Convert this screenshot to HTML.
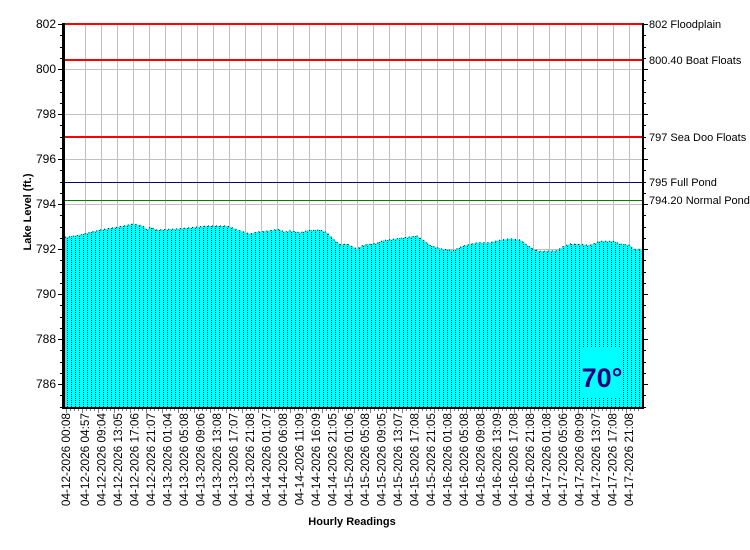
<!DOCTYPE html>
<html><head><meta charset="utf-8"><style>
html,body{margin:0;padding:0;background:#fff;}
svg{display:block;font-family:"Liberation Sans",Arial,sans-serif;}
</style></head><body>
<svg width="750" height="550" viewBox="0 0 750 550" xmlns="http://www.w3.org/2000/svg">
<defs>
<pattern id="dots" x="65" y="0" width="4" height="2" patternUnits="userSpaceOnUse">
<rect width="4" height="2" fill="#00ffff"/>
<rect x="2" y="0" width="1" height="1" fill="#000"/>
</pattern>
</defs>
<g stroke="#c0c0c0" stroke-width="1">
<line x1="64" y1="69.5" x2="643" y2="69.5"/>
<line x1="64" y1="114.5" x2="643" y2="114.5"/>
<line x1="64" y1="159.5" x2="643" y2="159.5"/>
<line x1="64" y1="204.5" x2="643" y2="204.5"/>
<line x1="64" y1="249.5" x2="643" y2="249.5"/>
<line x1="64" y1="294.5" x2="643" y2="294.5"/>
<line x1="64" y1="339.5" x2="643" y2="339.5"/>
<line x1="64" y1="384.5" x2="643" y2="384.5"/>
</g>
<g id="vg" stroke="#c0c0c0" stroke-width="1"></g>
<path fill="url(#dots)" d="M65,408 L65,237 L66,237.3 L80,235 L100,230 L120,226.7 L133,224 L143,226 L147,230 L150,227.3 L157,230 L180,228.7 L200,226.7 L207,226 L225,226 L230,227 L240,230.7 L250,234 L257,232 L270,230.7 L278,229.3 L285,232 L290,230.7 L300,232.7 L307,230.7 L320,230 L327,232.7 L333,239 L340,244.7 L347,244 L357,249 L363,245.3 L377,243.3 L383,240.7 L397,238.7 L417,236 L423,240 L430,245.3 L440,248.7 L453,250.7 L463,246 L477,242.7 L490,242.7 L497,240.7 L510,238.7 L520,240 L533,249.3 L540,251.3 L557,250.7 L563,246.7 L570,244 L583,244.7 L590,245.3 L600,241.3 L613,241.3 L620,244 L630,245.3 L633,249.3 L642,249.3 L642,408 Z"/>
<path fill="none" stroke="#000" stroke-width="1" stroke-dasharray="1 3" d="M65,237 L66,237.3 L80,235 L100,230 L120,226.7 L133,224 L143,226 L147,230 L150,227.3 L157,230 L180,228.7 L200,226.7 L207,226 L225,226 L230,227 L240,230.7 L250,234 L257,232 L270,230.7 L278,229.3 L285,232 L290,230.7 L300,232.7 L307,230.7 L320,230 L327,232.7 L333,239 L340,244.7 L347,244 L357,249 L363,245.3 L377,243.3 L383,240.7 L397,238.7 L417,236 L423,240 L430,245.3 L440,248.7 L453,250.7 L463,246 L477,242.7 L490,242.7 L497,240.7 L510,238.7 L520,240 L533,249.3 L540,251.3 L557,250.7 L563,246.7 L570,244 L583,244.7 L590,245.3 L600,241.3 L613,241.3 L620,244 L630,245.3 L633,249.3 L642,249.3"/>
<g>
<rect x="65" y="23" width="578" height="2" fill="#ff0000"/>
<rect x="65" y="59" width="578" height="2" fill="#ff0000"/>
<rect x="65" y="136" width="578" height="2" fill="#ff0000"/>
<rect x="65" y="182" width="578" height="1" fill="#000080"/>
<rect x="65" y="200" width="578" height="1" fill="#008000"/>
</g>
<rect x="580" y="348" width="43" height="49" fill="#00ffff"/>
<text x="602" y="387" font-size="27" font-weight="bold" fill="#000080" text-anchor="middle">70°</text>
<rect x="62" y="23" width="3" height="386" fill="#000"/>
<rect x="642" y="23" width="2" height="386" fill="#000"/>
<rect x="62" y="407" width="582" height="2" fill="#000"/>
<g id="ticks" stroke="#808080" stroke-width="1"></g>
<g font-size="12" fill="#000" text-anchor="end">
<text x="56" y="28">802</text>
<text x="56" y="73">800</text>
<text x="56" y="118">798</text>
<text x="56" y="163">796</text>
<text x="56" y="208">794</text>
<text x="56" y="253">792</text>
<text x="56" y="298">790</text>
<text x="56" y="343">788</text>
<text x="56" y="388">786</text>
</g>
<g font-size="11" fill="#000">
<text x="649" y="28">802 Floodplain</text>
<text x="649" y="64">800.40 Boat Floats</text>
<text x="649" y="141">797 Sea Doo Floats</text>
<text x="649" y="186">795 Full Pond</text>
<text x="649" y="204">794.20 Normal Pond</text>
</g>
<text transform="translate(31,212) rotate(-90)" font-size="11" font-weight="bold" text-anchor="middle">Lake Level (ft.)</text>
<text x="352" y="525" font-size="11" font-weight="bold" text-anchor="middle">Hourly Readings</text>
<g id="xl" font-size="11.8" fill="#000"></g>
</svg>
<script>
(function(){
var ns="http://www.w3.org/2000/svg";
var vg=document.getElementById('vg');
for(var k=0;k<35;k++){var x=85.5+k*16;var l=document.createElementNS(ns,'line');l.setAttribute('x1',x);l.setAttribute('x2',x);l.setAttribute('y1',24);l.setAttribute('y2',407);vg.appendChild(l);}
var tg=document.getElementById('ticks');
function ln(x1,y1,x2,y2,c){var l=document.createElementNS(ns,'line');l.setAttribute('x1',x1);l.setAttribute('y1',y1);l.setAttribute('x2',x2);l.setAttribute('y2',y2);if(c)l.setAttribute('stroke',c);tg.appendChild(l);}
for(var v=0;v<=17*2;v++){var y=24+v*11.25;var major=(v%4==0);ln(major?58:60,Math.round(y)+0.5,62,Math.round(y)+0.5,'#000');ln(644,Math.round(y)+0.5,major?648:646,Math.round(y)+0.5,'#000');}
for(var x=66;x<642;x+=4){ln(x+0.5,409,x+0.5,(x-66)%16==0?413:411);}
var labs=["04-12-2026 00:08","04-12-2026 04:57","04-12-2026 09:04","04-12-2026 13:05","04-12-2026 17:06","04-12-2026 21:07","04-13-2026 01:04","04-13-2026 05:08","04-13-2026 09:06","04-13-2026 13:08","04-13-2026 17:07","04-13-2026 21:08","04-14-2026 01:07","04-14-2026 06:08","04-14-2026 11:09","04-14-2026 16:09","04-14-2026 21:05","04-15-2026 01:06","04-15-2026 05:08","04-15-2026 09:05","04-15-2026 13:07","04-15-2026 17:08","04-15-2026 21:05","04-16-2026 01:08","04-16-2026 05:08","04-16-2026 09:08","04-16-2026 13:09","04-16-2026 17:08","04-16-2026 21:08","04-17-2026 01:08","04-17-2026 05:06","04-17-2026 09:09","04-17-2026 13:07","04-17-2026 17:08","04-17-2026 21:08"];
var xl=document.getElementById('xl');var n=labs.length;
for(var i=0;i<n;i++){var cx=i==0?66:85+(i-1)*(629-85)/(n-2);var t=document.createElementNS(ns,'text');t.setAttribute('transform','translate('+(cx+4)+',413) rotate(-90)');t.setAttribute('text-anchor','end');t.textContent=labs[i];xl.appendChild(t);}
})();
</script>
</body></html>
